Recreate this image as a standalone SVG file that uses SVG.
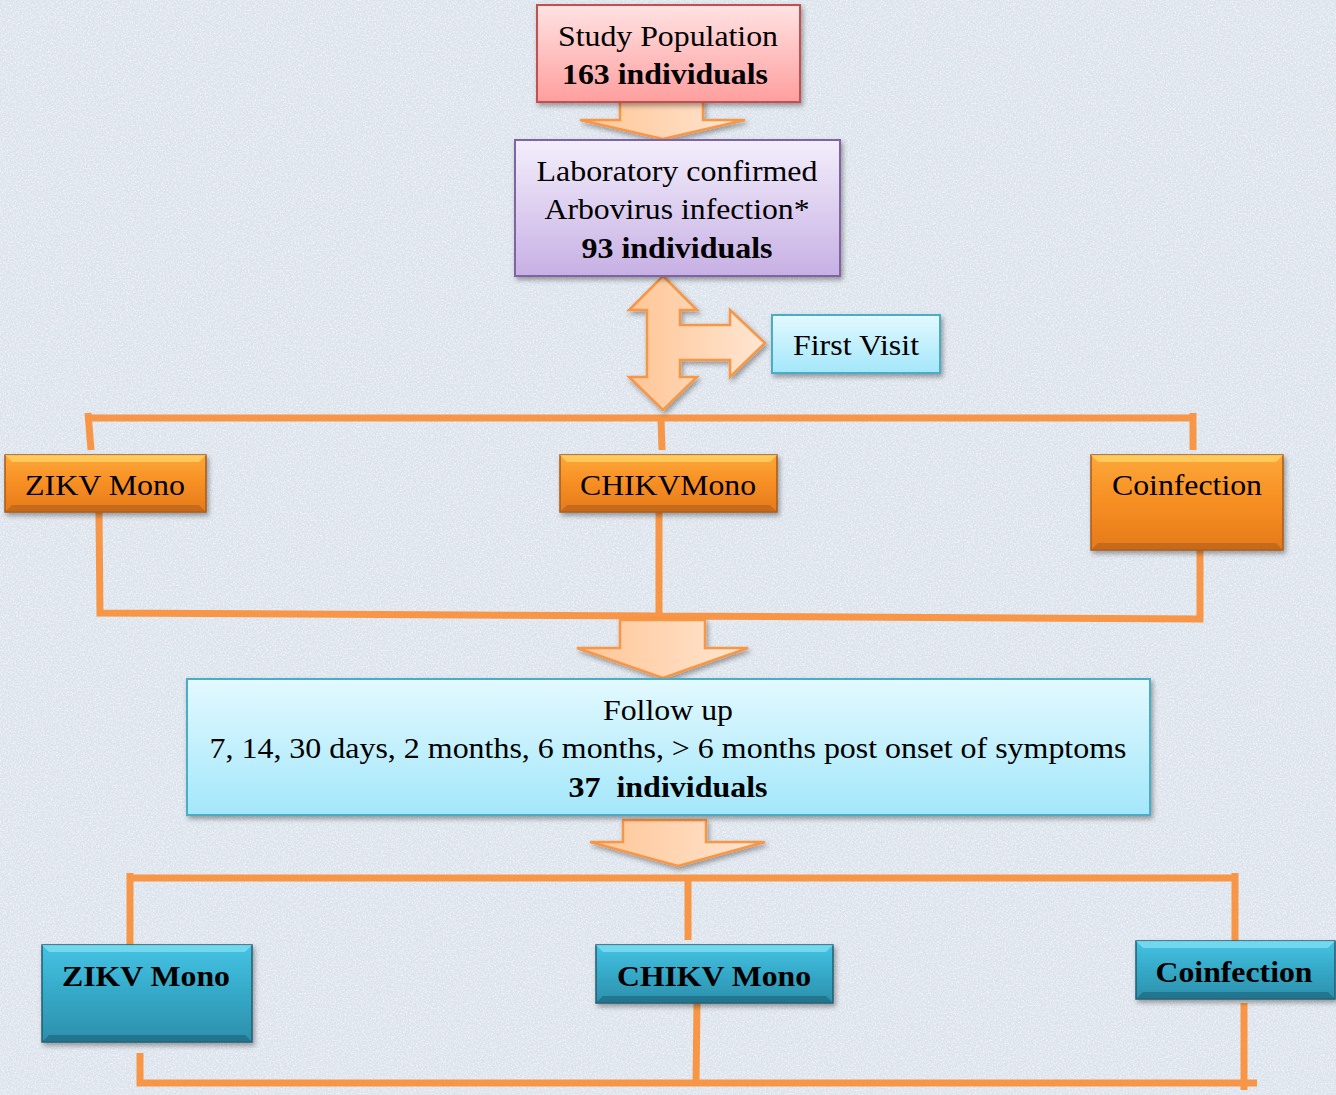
<svg xmlns="http://www.w3.org/2000/svg" width="1336" height="1095" viewBox="0 0 1336 1095">
<defs>
<style>
text{font-family:'Liberation Serif',serif;fill:#000;text-anchor:middle;font-size:30px}
.b{font-weight:bold}
.ln{fill:none;stroke:#f79646;stroke-width:7;stroke-linecap:butt;stroke-linejoin:miter}
.ba{fill:url(#gArrow);stroke:#f79646;stroke-width:2.5;stroke-linejoin:miter}
</style>
<linearGradient id="gPink" x1="0" y1="0" x2="0" y2="1"><stop offset="0" stop-color="#ffe3e3"/><stop offset="1" stop-color="#ff9e9e"/></linearGradient>
<linearGradient id="gLav" x1="0" y1="0" x2="0" y2="1"><stop offset="0" stop-color="#f3eefb"/><stop offset="1" stop-color="#c7b0e4"/></linearGradient>
<linearGradient id="gCyan" x1="0" y1="0" x2="0" y2="1"><stop offset="0" stop-color="#e3f9ff"/><stop offset="1" stop-color="#a3e7fa"/></linearGradient>
<linearGradient id="gArrow" x1="0" y1="0" x2="1" y2="0"><stop offset="0" stop-color="#ffc595"/><stop offset="1" stop-color="#ffe6d2"/></linearGradient>
<linearGradient id="gOr" x1="0" y1="0" x2="0" y2="1"><stop offset="0" stop-color="#fca83a"/><stop offset="0.5" stop-color="#f78e22"/><stop offset="1" stop-color="#e47a1c"/></linearGradient>
<linearGradient id="gTeal" x1="0" y1="0" x2="0" y2="1"><stop offset="0" stop-color="#45c3e3"/><stop offset="0.5" stop-color="#35a9c8"/><stop offset="1" stop-color="#2c8fab"/></linearGradient>
<filter id="sh" x="-10%" y="-10%" width="130%" height="140%"><feDropShadow dx="2" dy="3" stdDeviation="2.5" flood-color="#000" flood-opacity="0.35"/></filter>
<filter id="tex" x="0" y="0" width="100%" height="100%">
<feTurbulence type="fractalNoise" baseFrequency="0.6" numOctaves="3" seed="3" result="n"/>
<feColorMatrix in="n" type="matrix" values="0 0 0 0 1  0 0 0 0 1  0 0 0 0 1  0 0 0 -2.2 1.35" result="w"/>
<feComposite in="w" in2="SourceGraphic" operator="in"/>
</filter>
</defs>
<rect width="1336" height="1095" fill="#dce3ec"/>
<rect width="1336" height="1095" fill="#fff" filter="url(#tex)" opacity="0.6"/>

<g id="connectors">
<path class="ln" d="M91,450 L88,413 M88,418 L1193,418 M1193,413 L1193,450 M661,418 L662,450"/>
<path class="ln" d="M99,512 L100,613 L1200,619 L1200,550 M659,512 L659,614"/>
<path class="ln" d="M130,945 L130,873 M127,878 L1238,878 M1235,873 L1235,945 M688,878 L688,940"/>
<path class="ln" d="M140,1053 L140,1083 L1257,1083 M697,1003 L696,1083 M1244,1003 L1244,1090"/>
<polygon class="ba" filter="url(#sh)" points="620,100 703,100 703,120 745,120 663,139 580,120 620,120"/>
<polygon class="ba" filter="url(#sh)" points="663,276 697,310 680,310 680,325 730,325 730,310 765,343 730,377 730,360 680,360 680,377 697,377 663,410 629,377 647,377 647,310 629,310"/>
<polygon class="ba" filter="url(#sh)" points="620,620 705,620 705,648 748,648 663,678 577,648 620,648"/>
<polygon class="ba" filter="url(#sh)" points="623,820 706,820 706,842 765,842 678,866 590,842 623,842"/>
</g>

<g id="study-population">
<rect x="537" y="5" width="263" height="97" fill="url(#gPink)" stroke="#c4504d" stroke-width="2" filter="url(#sh)"/>
<text font-family="Liberation Serif" x="668" y="46" textLength="220" lengthAdjust="spacingAndGlyphs">Study Population</text>
<text font-family="Liberation Serif" class="b" x="665" y="84" textLength="206" lengthAdjust="spacingAndGlyphs">163 individuals</text>
</g>

<g id="lab-confirmed">
<rect x="515" y="140" width="325" height="136" fill="url(#gLav)" stroke="#8064a2" stroke-width="2" filter="url(#sh)"/>
<text font-family="Liberation Serif" x="677" y="181" textLength="281" lengthAdjust="spacingAndGlyphs">Laboratory confirmed</text>
<text font-family="Liberation Serif" x="677" y="219" textLength="265" lengthAdjust="spacingAndGlyphs">Arbovirus infection*</text>
<text font-family="Liberation Serif" class="b" x="677" y="258" textLength="191" lengthAdjust="spacingAndGlyphs">93 individuals</text>
</g>

<g id="first-visit">
<rect x="772" y="315" width="168" height="58" fill="url(#gCyan)" stroke="#4bacc6" stroke-width="2" filter="url(#sh)"/>
<text font-family="Liberation Serif" x="856" y="355" textLength="126" lengthAdjust="spacingAndGlyphs">First Visit</text>
</g>

<g id="zikv-mono-1">
<g filter="url(#sh)">
<rect x="5" y="455" width="201" height="57" fill="url(#gOr)" stroke="#a9591a" stroke-width="1.5"/>
<polygon points="5,455 206,455 199,462 12,462" fill="#ffd060" opacity="0.85"/>
<polygon points="5,512 206,512 199,505 12,505" fill="#b8621a" opacity="0.7"/>
</g>
<text font-family="Liberation Serif" x="105" y="495" textLength="160" lengthAdjust="spacingAndGlyphs">ZIKV Mono</text>
</g>

<g id="chikv-mono-1">
<g filter="url(#sh)">
<rect x="560" y="455" width="217" height="57" fill="url(#gOr)" stroke="#a9591a" stroke-width="1.5"/>
<polygon points="560,455 777,455 770,462 567,462" fill="#ffd060" opacity="0.85"/>
<polygon points="560,512 777,512 770,505 567,505" fill="#b8621a" opacity="0.7"/>
</g>
<text font-family="Liberation Serif" x="668" y="495" textLength="176" lengthAdjust="spacingAndGlyphs">CHIKVMono</text>
</g>

<g id="coinfection-1">
<g filter="url(#sh)">
<rect x="1091" y="455" width="192" height="95" fill="url(#gOr)" stroke="#a9591a" stroke-width="1.5"/>
<polygon points="1091,455 1283,455 1276,462 1098,462" fill="#ffd060" opacity="0.85"/>
<polygon points="1091,550 1283,550 1276,543 1098,543" fill="#b8621a" opacity="0.7"/>
</g>
<text font-family="Liberation Serif" x="1187" y="495" textLength="150" lengthAdjust="spacingAndGlyphs">Coinfection</text>
</g>

<g id="follow-up">
<rect x="187" y="679" width="963" height="136" fill="url(#gCyan)" stroke="#4bacc6" stroke-width="2" filter="url(#sh)"/>
<text font-family="Liberation Serif" x="668" y="720" textLength="130" lengthAdjust="spacingAndGlyphs">Follow up</text>
<text font-family="Liberation Serif" x="668" y="758" textLength="917" lengthAdjust="spacingAndGlyphs">7, 14, 30 days, 2 months, 6 months, &gt; 6 months post onset of symptoms</text>
<text font-family="Liberation Serif" class="b" x="668" y="797" textLength="199" lengthAdjust="spacingAndGlyphs" style="white-space:pre">37  individuals</text>
</g>

<g id="zikv-mono-2">
<g filter="url(#sh)">
<rect x="42" y="945" width="210" height="97" fill="url(#gTeal)" stroke="#205e72" stroke-width="1.5"/>
<polygon points="42,945 252,945 245,952 49,952" fill="#7adcf2" opacity="0.85"/>
<polygon points="42,1042 252,1042 245,1035 49,1035" fill="#1f6a80" opacity="0.7"/>
</g>
<text font-family="Liberation Serif" class="b" x="146" y="986" textLength="168" lengthAdjust="spacingAndGlyphs">ZIKV Mono</text>
</g>

<g id="chikv-mono-2">
<g filter="url(#sh)">
<rect x="596" y="945" width="237" height="58" fill="url(#gTeal)" stroke="#205e72" stroke-width="1.5"/>
<polygon points="596,945 833,945 826,952 603,952" fill="#7adcf2" opacity="0.85"/>
<polygon points="596,1003 833,1003 826,996 603,996" fill="#1f6a80" opacity="0.7"/>
</g>
<text font-family="Liberation Serif" class="b" x="714" y="986" textLength="194" lengthAdjust="spacingAndGlyphs">CHIKV Mono</text>
</g>

<g id="coinfection-2">
<g filter="url(#sh)">
<rect x="1136" y="941" width="199" height="58" fill="url(#gTeal)" stroke="#205e72" stroke-width="1.5"/>
<polygon points="1136,941 1335,941 1328,948 1143,948" fill="#7adcf2" opacity="0.85"/>
<polygon points="1136,999 1335,999 1328,992 1143,992" fill="#1f6a80" opacity="0.7"/>
</g>
<text font-family="Liberation Serif" class="b" x="1234" y="982" textLength="157" lengthAdjust="spacingAndGlyphs">Coinfection</text>
</g>
</svg>
